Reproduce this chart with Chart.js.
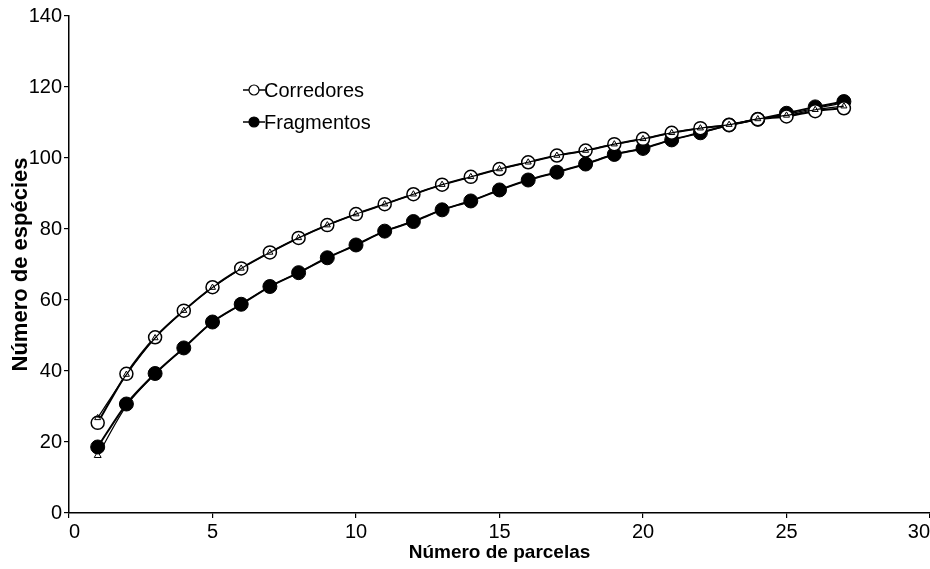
<!DOCTYPE html>
<html>
<head>
<meta charset="utf-8">
<script src="https://cdn.jsdelivr.net/npm/chart.js@4.4.1/dist/chart.umd.min.js"></script>
<style>
  html, body { margin: 0; padding: 0; background: #fff; }
  #wrap { width: 930px; height: 569px; position: relative; }
</style>
</head>
<body>
<div id="wrap"><canvas id="curve"></canvas></div>
<script>
const parcelas = [1, 2, 3, 4, 5, 6, 7, 8, 9, 10, 11, 12, 13, 14, 15, 16, 17, 18, 19, 20, 21, 22, 23, 24, 25, 26, 27];
const seriesNames = ["Corredores", "Fragmentos"];

// observed curves (circles)
const corredores = [25.4, 39.2, 49.5, 57.0, 63.6, 68.9, 73.4, 77.5, 81.1, 84.2, 87.0, 89.8, 92.5, 94.7, 96.9, 98.8, 100.7, 102.1, 103.9, 105.4, 107.1, 108.4, 109.3, 110.9, 111.7, 113.2, 114.0];
const fragmentos = [18.6, 30.7, 39.3, 46.5, 53.8, 58.8, 63.8, 67.7, 71.9, 75.5, 79.4, 82.1, 85.4, 87.9, 91.0, 93.8, 96.0, 98.3, 101.0, 102.7, 105.1, 107.1, 109.3, 110.9, 112.6, 114.4, 115.9];

// curves hidden under the circles (triangles), only split at the ends
const corredoresTri = [26.8, 39.0, 49.3, 57.0, 63.5, 68.9, 73.4, 77.5, 81.1, 84.2, 87.0, 89.8, 92.5, 94.7, 96.9, 98.8, 100.7, 102.1, 103.9, 105.4, 107.1, 108.4, 109.4, 111.0, 112.0, 113.6, 114.6];
const fragmentosTri = [16.2, 30.2, 39.1, 46.5, 53.8, 58.8, 63.8, 67.7, 71.9, 75.5, 79.4, 82.1, 85.4, 87.9, 91.0, 93.8, 96.0, 98.3, 101.0, 102.7, 105.1, 107.1, 109.2, 110.8, 112.3, 114.0, 115.5];

const xTicks = [0, 5, 10, 15, 20, 25, 30];
const yTicks = [0, 20, 40, 60, 80, 100, 120, 140];

const toXY = (ys) => ys.map((y, i) => ({ x: parcelas[i], y }));

const FONT = "'Liberation Sans', Arial, sans-serif";

const insideLegend = {
  id: "insideLegend",
  afterDraw: (chart) => {
    const { ctx, chartArea } = chart;
    ctx.save();
    const rows = [
      { name: seriesNames[0], y: chartArea.top + 74, fill: "#fff" },
      { name: seriesNames[1], y: chartArea.top + 106, fill: "#000" },
    ];
    rows.forEach((r) => {
      const x0 = chartArea.left + 174;
      ctx.strokeStyle = "#000";
      ctx.lineWidth = 1.5;
      ctx.beginPath();
      ctx.moveTo(x0, r.y);
      ctx.lineTo(x0 + 22, r.y);
      ctx.stroke();
      ctx.beginPath();
      ctx.arc(x0 + 11, r.y, 5, 0, Math.PI * 2);
      ctx.fillStyle = r.fill;
      ctx.fill();
      ctx.lineWidth = 1.2;
      ctx.stroke();
      ctx.fillStyle = "#000";
      ctx.font = "20px " + FONT;
      ctx.textBaseline = "middle";
      ctx.textAlign = "left";
      ctx.fillText(r.name, x0 + 21, r.y + 1);
    });
    ctx.restore();
  },
};

const lineBase = {
  borderColor: "#000",
  pointBorderColor: "#000",
  borderWidth: 2,
  tension: 0.3,
  fill: false,
};

new Chart(document.getElementById("curve"), {
  type: "line",
  data: {
    datasets: [
      {
        ...lineBase,
        label: seriesNames[0] + " (est.)",
        data: toXY(corredoresTri),
        pointStyle: "triangle",
        pointRadius: 3.5,
        pointBackgroundColor: "rgba(255,255,255,0)",
        pointBorderWidth: 1,
        borderWidth: 1.2,
      },
      {
        ...lineBase,
        label: seriesNames[1] + " (est.)",
        data: toXY(fragmentosTri),
        pointStyle: "triangle",
        pointRadius: 4,
        pointBackgroundColor: "#fff",
        pointBorderWidth: 1,
        borderWidth: 1.2,
        order: 2,
      },
      {
        ...lineBase,
        label: seriesNames[0],
        data: toXY(corredores),
        pointStyle: "circle",
        pointRadius: 6.5,
        pointBackgroundColor: "#fff",
        pointBorderWidth: 1.5,
      },
      {
        ...lineBase,
        label: seriesNames[1],
        data: toXY(fragmentos),
        pointStyle: "circle",
        pointRadius: 7,
        pointBackgroundColor: "#000",
        pointBorderWidth: 1,
      },
    ],
  },
  options: {
    responsive: true,
    maintainAspectRatio: false,
    animation: false,
    layout: { autoPadding: false, padding: { top: 16, right: 0, left: 0, bottom: 0 } },
    scales: {
      x: {
        type: "linear",
        min: 0,
        max: 30,
        afterBuildTicks: (scale) => {
          scale.ticks = xTicks.map((v) => ({ value: v }));
        },
        afterFit: (scale) => {
          scale.height = 56;
          scale.paddingRight = 0;
        },
        ticks: {
          color: "#000",
          font: { family: FONT, size: 20 },
          padding: 2,
          maxRotation: 0,
          align: "inner",
        },
        grid: { drawOnChartArea: false, color: "#000", tickLength: 5, lineWidth: 1.2 },
        border: { color: "#000", width: 1.5 },
        title: {
          display: true,
          text: "Número de parcelas",
          color: "#000",
          font: { family: FONT, size: 19, weight: "bold" },
          padding: { top: 0, bottom: 5 },
        },
      },
      y: {
        type: "linear",
        min: 0,
        max: 140,
        afterBuildTicks: (scale) => {
          scale.ticks = yTicks.map((v) => ({ value: v }));
        },
        afterFit: (scale) => {
          scale.width = 69;
        },
        ticks: {
          color: "#000",
          font: { family: FONT, size: 20 },
          padding: 2,
        },
        grid: { drawOnChartArea: false, color: "#000", tickLength: 5, lineWidth: 1.2 },
        border: { color: "#000", width: 1.5 },
        title: {
          display: true,
          text: "Número de espécies",
          color: "#000",
          font: { family: FONT, size: 22, weight: "bold" },
          padding: { top: 8, bottom: 0 },
        },
      },
    },
    plugins: {
      legend: { display: false },
      tooltip: { enabled: false },
    },
  },
  plugins: [insideLegend],
});
</script>
</body>
</html>
